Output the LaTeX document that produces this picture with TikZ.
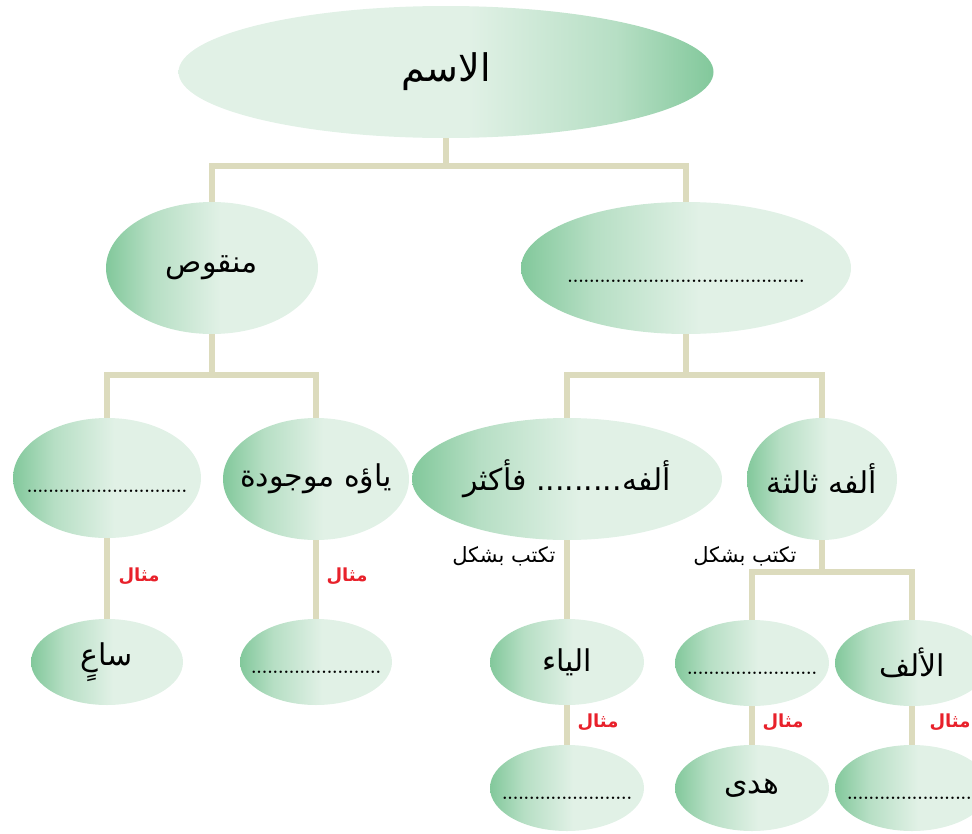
\documentclass[tikz,border=0pt]{standalone}
\usepackage{fontspec}
\newfontfamily\arabicfont[Script=Arabic]{DejaVu Sans}
\TeXXeTstate=1
\usetikzlibrary{shapes.geometric}

\definecolor{gdark}{HTML}{82C89B}
\definecolor{glight}{HTML}{E1F1E6}
\definecolor{stalkc}{HTML}{DCDBBD}
\definecolor{exred}{HTML}{E8212B}
\pgfdeclarehorizontalshading{leafshade}{100bp}{color(0bp)=(gdark); color(25bp)=(gdark); color(36bp)=(gdark!45!glight); color(52bp)=(glight); color(100bp)=(glight)}
\pgfdeclarehorizontalshading{rootshade}{100bp}{color(0bp)=(glight); color(52bp)=(glight); color(66bp)=(gdark!45!glight); color(75bp)=(gdark); color(100bp)=(gdark)}
\newcommand\artxt[1]{{\arabicfont\beginR #1\endR}}
\newcommand\blank[2][29pt]{\raisebox{-#1}{\makebox[#2]{\xleaders\hbox to 5.3pt{\hss.\hss}\hfill}}}

\begin{document}
\begin{tikzpicture}[x=1pt,y=-1pt]
  \tikzstyle{oval}=[ellipse,inner xsep=-30pt,inner ysep=0pt,shade,shading=leafshade,font=\fontsize{30}{34}\selectfont]
  \tikzstyle{big}=[oval,minimum width=#1,minimum height=122pt]
  \tikzstyle{small}=[oval,minimum width=154pt,minimum height=86pt]
  \tikzstyle{stalk}=[draw=stalkc,line width=6pt]
  \tikzstyle{ex}=[text=exred,font=\fontsize{18}{20}\selectfont\bfseries]
  \tikzstyle{how}=[anchor=east,font=\fontsize{21}{24}\selectfont]
  \useasboundingbox (0,0) rectangle (972,833);
  % top
  \node[oval,shading=rootshade,minimum width=535pt,minimum height=132pt,font=\fontsize{38}{42}\selectfont] (root) at (446,72) {\artxt{الاسم}};
  \node[oval,minimum width=212pt,minimum height=132pt] (mnq) at (212,268) {\artxt{منقوص}};
  \node[oval,minimum width=330pt,minimum height=132pt] (blankA) at (686,268) {\blank{237pt}};
  % second row
  \node[big=188pt,minimum height=120pt] (blankB) at (107,478) {\blank{160pt}};
  \node[big=186pt] (yaa) at (316,479) {\artxt{ياؤه موجودة}};
  \node[big=310pt] (alfA) at (567,479) {\artxt{ألفه\hbox{.........}\ فأكثر}};
  \node[big=150pt] (alf3) at (822,479) {\artxt{ألفه ثالثة}};
  % third row
  \node[small,minimum width=152pt] (saa) at (107,662) {\artxt{ساعٍ}};
  \node[small,minimum width=152pt] (blankC) at (316,662) {\blank[22pt]{130pt}};
  \node[small] (yaa2) at (567,662) {\artxt{الياء}};
  \node[small] (blankE) at (752,663) {\blank[22pt]{130pt}};
  \node[small] (alif) at (912,663) {\artxt{الألف}};
  % bottom row
  \node[small] (blankD) at (567,788) {\blank[22pt]{130pt}};
  \node[small] (huda) at (752,788) {\artxt{هدى}};
  \node[small] (blankF) at (912,788) {\blank[22pt]{130pt}};
  % connectors
  \draw[stalk] (root.south) -- ++(0,28) -| (mnq.north);
  \draw[stalk] (root.south) -- ++(0,28) -| (blankA.north);
  \draw[stalk] (mnq.south) -- ++(0,41) -| (blankB.north);
  \draw[stalk] (mnq.south) -- ++(0,41) -| (yaa.north);
  \draw[stalk] (blankA.south) -- ++(0,41) -| (alfA.north);
  \draw[stalk] (blankA.south) -- ++(0,41) -| (alf3.north);
  \draw[stalk] (blankB) -- (saa);
  \draw[stalk] (yaa) -- (blankC);
  \draw[stalk] (alfA) -- (yaa2);
  \draw[stalk] (alf3.south) -- ++(0,32) -| (blankE.north);
  \draw[stalk] (alf3.south) -- ++(0,32) -| (alif.north);
  \draw[stalk] (yaa2) -- (blankD);
  \draw[stalk] (blankE) -- (huda);
  \draw[stalk] (alif) -- (blankF);
  % labels on the stalks
  \node[how] (how1) at (559,556) {\artxt{تكتب بشكل}};
  \node[how] (how2) at (800,556) {\artxt{تكتب بشكل}};
  \node[ex] (ex1) at (139,576) {\artxt{مثال}};
  \node[ex] (ex2) at (347,576) {\artxt{مثال}};
  \node[ex] (ex3) at (598,722) {\artxt{مثال}};
  \node[ex] (ex4) at (783,722) {\artxt{مثال}};
  \node[ex] (ex5) at (950,722) {\artxt{مثال}};
\end{tikzpicture}
\end{document}
